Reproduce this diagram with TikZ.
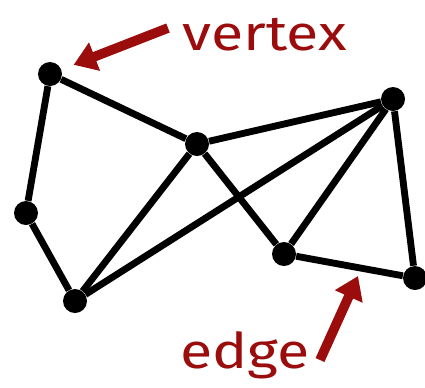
\documentclass[tikz,border=0pt]{standalone}
\usepackage{fontspec}
\newfontfamily\handfont[FakeStretch=1.2]{Fira Sans}
\usepackage{xcolor}
\usetikzlibrary{arrows.meta}
\definecolor{inkred}{RGB}{155,12,12}

\begin{document}
\begin{tikzpicture}[
  x=0.02cm, y=-0.02cm,
  vertex/.style={circle, fill=black, inner sep=0pt, minimum size=0.48cm},
  link/.style={draw, line width=3.9pt},
  note/.style={text=inkred, font=\handfont\fontsize{28}{30}\selectfont, inner sep=0pt},
  pointer/.style={draw=inkred, line width=5.5pt, -{Triangle[length=0.45cm, width=0.58cm]}}
]
  \useasboundingbox (0,0) rectangle (425,387);

  \node[vertex] (v1) at (50,74) {};
  \node[vertex] (v2) at (26,213) {};
  \node[vertex] (v3) at (75,301) {};
  \node[vertex] (v4) at (197,144) {};
  \node[vertex] (v5) at (393,99) {};
  \node[vertex] (v6) at (284,254) {};
  \node[vertex] (v7) at (415,278) {};

  \draw[link] (v1) -- (v4);
  \draw[link] (v1) -- (v2);
  \draw[link] (v2) -- (v3);
  \draw[link] (v3) -- (v4);
  \draw[link] (v3) -- (v5);
  \draw[link] (v4) -- (v5);
  \draw[link] (v4) -- (v6);
  \draw[link] (v6) -- (v5);
  \draw[link] (v6) -- (v7);
  \draw[link] (v5) -- (v7);

  % labels
  \node[note, anchor=base west] (lvertex) at (182,50) {vertex};
  \node[note, anchor=base west] (ledge) at (180,368) {edge};

  \coordinate (vtail) at (168,28);
  \coordinate (etail) at (320,360);
  \coordinate (etip) at (358,276);
  \draw[pointer, shorten >=0.26cm] (vtail) -- (v1);
  \draw[pointer] (etail) -- (etip);
\end{tikzpicture}
\end{document}
